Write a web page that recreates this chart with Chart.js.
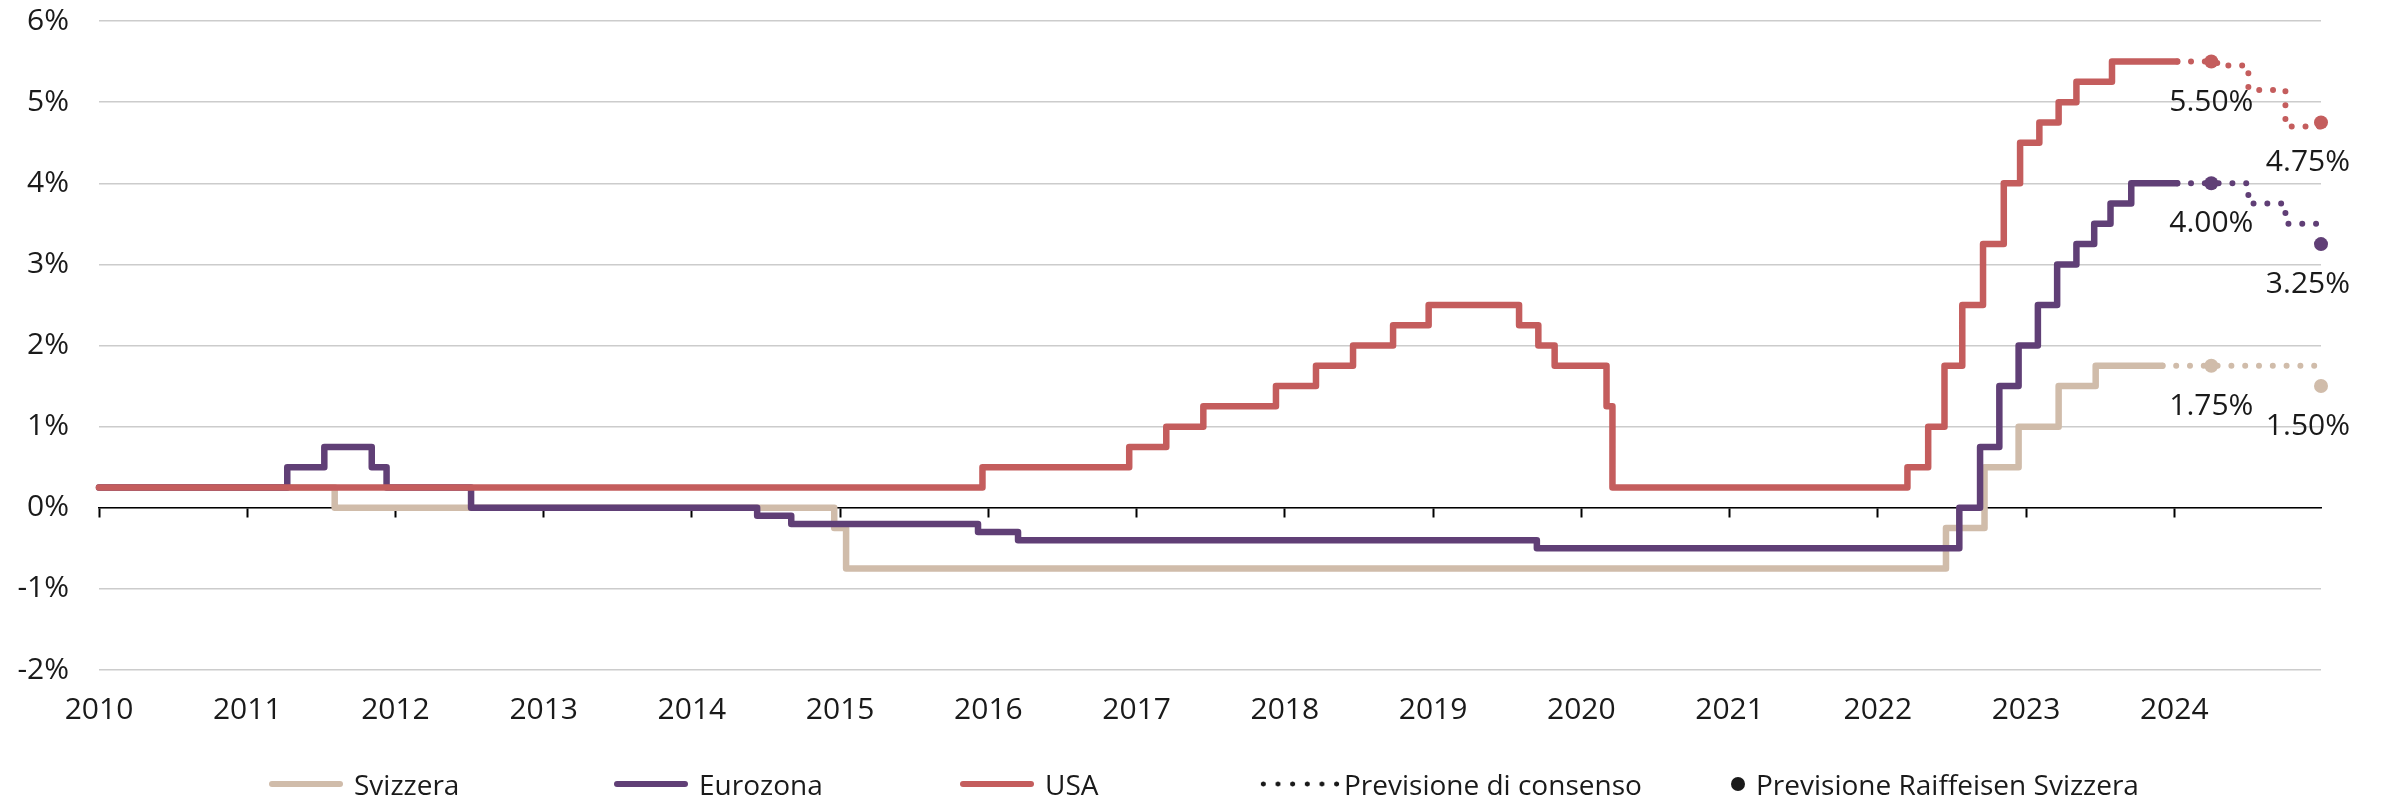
<!DOCTYPE html>
<html>
<head>
<meta charset="utf-8">
<script src="https://cdn.jsdelivr.net/npm/chart.js@4/dist/chart.umd.min.js"></script>
<style>
  html, body { margin: 0; padding: 0; background: #fff; }
  #wrap { position: relative; width: 2381px; height: 800px; }
  #chart { position: absolute; left: 0; top: 0; }
  #legend { position: absolute; left: 0; top: 770px; width: 2381px; height: 28px;
            font-family: "Open Sans", sans-serif; font-size: 28px; line-height: 28px; color: #1a1a1a; }
  .item { position: absolute; top: 0; height: 28px; display: flex; align-items: center; white-space: nowrap; }
  .line { width: 74px; height: 6px; border-radius: 3px; margin-right: 11px; }
  .dots { width: 88px; height: 6px; margin-right: 0;
          background: radial-gradient(circle, #1a1a1a 0 2.2px, transparent 2.8px) 0 0 / 14.67px 6px repeat-x; }
  .dot { width: 14px; height: 14px; border-radius: 50%; background: #1a1a1a; margin-right: 11px; }
</style>
</head>
<body>
<div id="wrap">
  <canvas id="chart" width="2381" height="800"></canvas>
  <div id="legend">
    <div class="item" style="left:269px"><span class="line" style="background:#d0bcaa"></span><span>Svizzera</span></div>
    <div class="item" style="left:614px"><span class="line" style="background:#603f76"></span><span>Eurozona</span></div>
    <div class="item" style="left:960px"><span class="line" style="background:#c45d5d"></span><span>USA</span></div>
    <div class="item" style="left:1256px"><span class="dots"></span><span>Previsione di consenso</span></div>
    <div class="item" style="left:1731px"><span class="dot"></span><span>Previsione Raiffeisen Svizzera</span></div>
  </div>
</div>
<script>
// x axis years
const years = [2010, 2011, 2012, 2013, 2014, 2015, 2016, 2017, 2018, 2019, 2020, 2021, 2022, 2023, 2024];

// policy rates, date of change (decimal year) and new rate
const chDates = [2010, 2011.59, 2014.96, 2015.04, 2022.46, 2022.72, 2022.95, 2023.22, 2023.47, 2023.92];
const chRates = [0.25, 0, -0.25, -0.75, -0.25, 0.5, 1.0, 1.5, 1.75, 1.75];

const ezDates = [2010, 2011.27, 2011.52, 2011.84, 2011.94, 2012.51, 2014.44, 2014.67, 2015.93, 2016.2,
  2019.7, 2022.55, 2022.69, 2022.82, 2022.95, 2023.08, 2023.21, 2023.34, 2023.46, 2023.57, 2023.71, 2024.02];
const ezRates = [0.25, 0.5, 0.75, 0.5, 0.25, 0, -0.1, -0.2, -0.3, -0.4,
  -0.5, 0, 0.75, 1.5, 2.0, 2.5, 3.0, 3.25, 3.5, 3.75, 4.0, 4.0];

const usDates = [2010, 2015.96, 2016.95, 2017.2, 2017.45, 2017.94, 2018.21, 2018.46, 2018.73, 2018.97,
  2019.58, 2019.71, 2019.82, 2020.17, 2020.21, 2022.2, 2022.34, 2022.45, 2022.57, 2022.71,
  2022.85, 2022.96, 2023.09, 2023.22, 2023.34, 2023.58, 2024.02];
const usRates = [0.25, 0.5, 0.75, 1.0, 1.25, 1.5, 1.75, 2.0, 2.25, 2.5,
  2.25, 2.0, 1.75, 1.25, 0.25, 0.5, 1.0, 1.75, 2.5, 3.25,
  4.0, 4.5, 4.75, 5.0, 5.25, 5.5, 5.5];

// consensus forecast (dotted)
const chConsDates = [2023.92, 2024.99];
const chConsRates = [1.75, 1.75];
const ezConsDates = [2024.02, 2024.5, 2024.75, 2024.99];
const ezConsRates = [4.0, 3.75, 3.5, 3.5];
const usConsDates = [2024.02, 2024.29, 2024.5, 2024.75, 2024.99];
const usConsRates = [5.5, 5.45, 5.15, 4.7, 4.7];

// Raiffeisen forecast (dots)
const fcDates = [2024.25, 2024.99];
const chFc = [1.75, 1.5];
const ezFc = [4.0, 3.25];
const usFc = [5.5, 4.75];

const RED = '#c45d5d';
const PURPLE = '#603f76';
const BEIGE = '#d0bcaa';

Chart.defaults.font.family = '"Open Sans", sans-serif';
Chart.defaults.color = '#1a1a1a';

function pts(xs, ys) {
  return xs.map((x, i) => ({ x: x, y: ys[i] }));
}

function solid(label, xs, ys, color, order) {
  return {
    label: label, data: pts(xs, ys), borderColor: color, backgroundColor: color,
    borderWidth: 6.5, stepped: true, pointRadius: 0,
    borderCapStyle: 'round', borderJoinStyle: 'round', order: order, clip: false
  };
}

function dotted(label, xs, ys, color) {
  return {
    label: label, data: pts(xs, ys), borderColor: color, backgroundColor: color,
    borderWidth: 6, borderDash: [0, 13.8], borderCapStyle: 'round', stepped: true,
    pointRadius: 0, order: 4, clip: false
  };
}

function dots(label, ys, color) {
  return {
    label: label, data: pts(fcDates, ys), showLine: false, fcLabel: true,
    pointRadius: 7, pointBackgroundColor: color, pointBorderColor: color, pointBorderWidth: 0,
    order: 0, clip: false
  };
}

// value labels under the Raiffeisen dots
const fcLabels = {
  id: 'fcLabels',
  afterDatasetsDraw(chart) {
    const ctx = chart.ctx;
    ctx.save();
    ctx.font = '30px "Open Sans"';
    ctx.fillStyle = '#1a1a1a';
    ctx.textAlign = 'center';
    ctx.textBaseline = 'alphabetic';
    chart.data.datasets.forEach((ds, i) => {
      if (!ds.fcLabel) return;
      chart.getDatasetMeta(i).data.forEach((pt, j) => {
        const txt = ds.data[j].y.toFixed(2) + '%';
        const w = ctx.measureText(txt).width;
        const x = Math.min(pt.x, chart.width - 31 - w / 2);
        ctx.fillText(txt, x, pt.y + 49);
      });
    });
    ctx.restore();
  }
};

const setYears = s => { s.ticks = years.map(v => ({ value: v })); };

new Chart(document.getElementById('chart'), {
  type: 'line',
  data: {
    datasets: [
      dots('Previsione Raiffeisen USA', usFc, RED),
      dots('Previsione Raiffeisen Eurozona', ezFc, PURPLE),
      dots('Previsione Raiffeisen Svizzera', chFc, BEIGE),
      solid('USA', usDates, usRates, RED, 1),
      solid('Eurozona', ezDates, ezRates, PURPLE, 2),
      solid('Svizzera', chDates, chRates, BEIGE, 3),
      dotted('Consenso USA', usConsDates, usConsRates, RED),
      dotted('Consenso Eurozona', ezConsDates, ezConsRates, PURPLE),
      dotted('Consenso Svizzera', chConsDates, chConsRates, BEIGE)
    ]
  },
  options: {
    responsive: false,
    animation: false,
    layout: { padding: { top: 21, right: 60, bottom: 70, left: 0 } },
    plugins: { legend: { display: false }, tooltip: { enabled: false } },
    scales: {
      y: {
        min: -2, max: 6,
        ticks: { stepSize: 1, padding: 30, font: { size: 30 }, callback: v => v + '%' },
        grid: { color: '#cccccc', lineWidth: 1.5, drawTicks: false },
        border: { display: false },
        afterFit: s => { s.width = 99; s.paddingTop = 0; s.paddingBottom = 0; }
      },
      x: {
        type: 'linear', position: { y: 0 }, min: 2010, max: 2024.99,
        afterBuildTicks: setYears,
        ticks: { display: false },
        grid: { drawOnChartArea: false, drawTicks: true, tickLength: 9, tickColor: '#000', tickWidth: 2, color: '#000' },
        border: { display: true, color: '#000', width: 1.5 },
        afterFit: s => { s.paddingTop = 0; s.paddingBottom = 0; }
      },
      x2: {
        type: 'linear', axis: 'x', position: 'bottom', min: 2010, max: 2024.99,
        afterBuildTicks: setYears,
        ticks: { font: { size: 30 }, padding: 22, maxRotation: 0, autoSkip: false, callback: v => String(v) },
        grid: { display: false, drawTicks: false },
        border: { display: false },
        afterFit: s => { s.height = 60; }
      }
    }
  },
  plugins: [fcLabels]
});
</script>
</body>
</html>
